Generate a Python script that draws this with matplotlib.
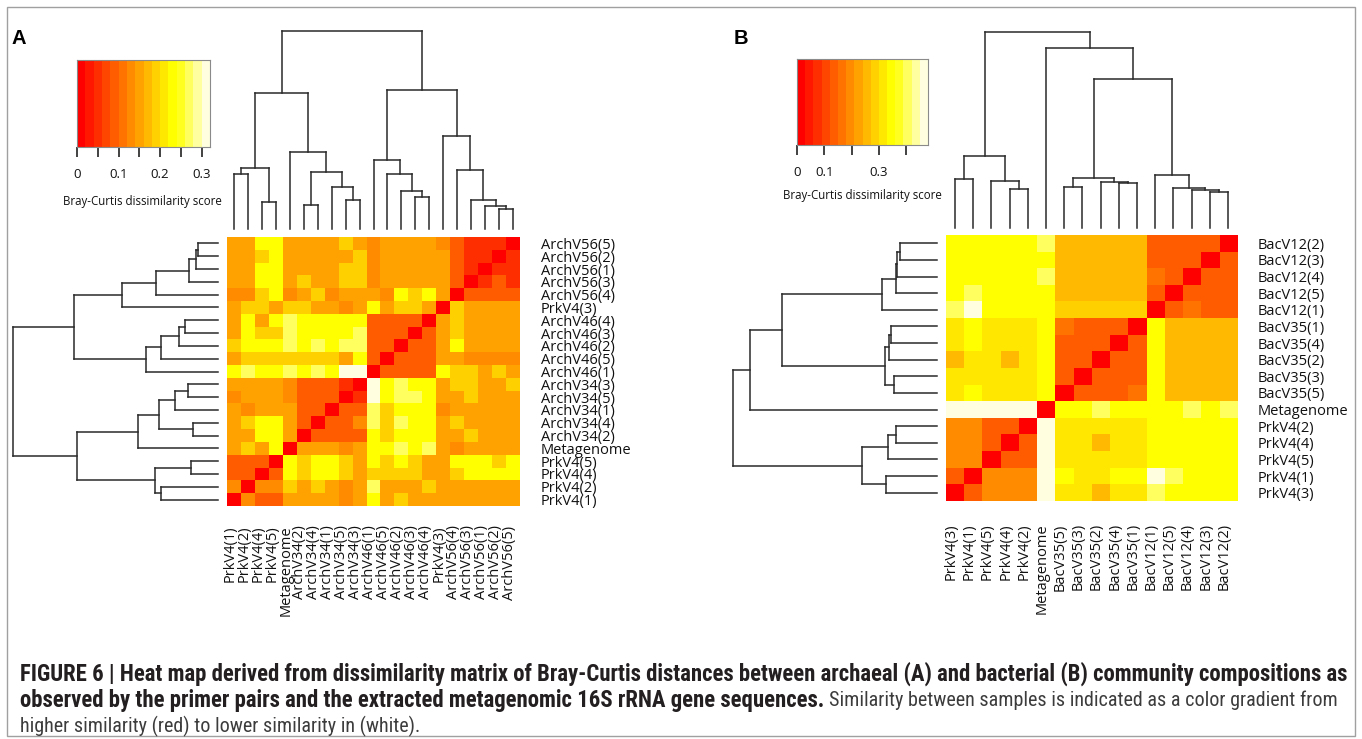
import colorsys
import numpy as np
import matplotlib
matplotlib.use("Agg")
import matplotlib.pyplot as plt
from matplotlib import font_manager
from matplotlib.colors import ListedColormap
from matplotlib.patches import Rectangle
from matplotlib.transforms import ScaledTranslation

# ---------------- panel A: archaea ----------------
a_rows = ["ArchV56(5)", "ArchV56(2)", "ArchV56(1)", "ArchV56(3)", "ArchV56(4)",
          "PrkV4(3)", "ArchV46(4)", "ArchV46(3)", "ArchV46(2)", "ArchV46(5)",
          "ArchV46(1)", "ArchV34(3)", "ArchV34(5)", "ArchV34(1)", "ArchV34(4)",
          "ArchV34(2)", "Metagenome", "PrkV4(5)", "PrkV4(4)", "PrkV4(2)", "PrkV4(1)"]
a_cols = a_rows[::-1]

# Bray-Curtis dissimilarity, rows top->bottom, columns left->right
a_dist = [
    [.15, .15, .23, .23, .15, .15, .15, .15, .19, .15, .13, .15, .15, .15, .15, .13, .09, .05, .05, .05, 0],
    [.15, .15, .19, .23, .15, .15, .15, .15, .15, .19, .13, .15, .15, .15, .15, .15, .09, .05, .05, 0, .05],
    [.15, .15, .23, .23, .15, .15, .15, .15, .19, .19, .13, .15, .15, .15, .15, .15, .09, .05, 0, .05, .05],
    [.15, .15, .23, .23, .15, .19, .15, .15, .19, .19, .13, .15, .15, .15, .15, .15, .09, 0, .05, .09, .05],
    [.13, .13, .19, .23, .13, .15, .19, .13, .15, .15, .15, .13, .23, .19, .23, .15, 0, .09, .09, .09, .09],
    [.15, .19, .19, .15, .19, .19, .15, .15, .13, .15, .23, .15, .19, .19, .15, 0, .19, .15, .15, .15, .15],
    [.15, .23, .15, .23, .27, .23, .23, .23, .23, .23, .09, .09, .09, .09, 0, .15, .19, .15, .15, .15, .15],
    [.15, .23, .19, .19, .27, .23, .23, .23, .23, .27, .09, .09, .09, 0, .09, .15, .19, .15, .15, .15, .15],
    [.19, .23, .23, .23, .27, .23, .27, .23, .27, .27, .09, .09, 0, .09, .09, .15, .23, .15, .15, .15, .15],
    [.15, .19, .19, .19, .19, .19, .19, .19, .15, .23, .09, 0, .09, .09, .09, .15, .15, .13, .13, .13, .13],
    [.23, .27, .23, .23, .27, .23, .27, .23, .31, .31, 0, .09, .09, .09, .09, .23, .19, .19, .15, .19, .15],
    [.15, .15, .15, .15, .13, .09, .09, .09, .05, 0, .31, .23, .27, .23, .23, .15, .19, .19, .15, .15, .19],
    [.13, .15, .15, .15, .13, .09, .09, .09, 0, .05, .31, .23, .27, .27, .23, .15, .15, .19, .15, .15, .15],
    [.15, .13, .15, .15, .15, .09, .09, 0, .09, .09, .27, .19, .23, .23, .23, .13, .15, .15, .15, .15, .15],
    [.15, .19, .23, .23, .15, .09, 0, .09, .09, .13, .27, .19, .27, .23, .23, .15, .19, .15, .15, .15, .15],
    [.15, .15, .23, .23, .15, 0, .09, .09, .09, .09, .23, .19, .23, .23, .23, .15, .15, .19, .15, .15, .15],
    [.15, .19, .15, .23, 0, .15, .15, .15, .13, .15, .23, .23, .27, .23, .27, .15, .13, .15, .15, .15, .15],
    [.09, .09, .09, 0, .23, .19, .23, .23, .19, .15, .23, .19, .23, .19, .15, .15, .23, .23, .23, .19, .23],
    [.09, .09, 0, .09, .23, .19, .23, .23, .19, .15, .19, .19, .19, .19, .15, .15, .19, .23, .23, .23, .23],
    [.13, 0, .13, .13, .19, .15, .19, .15, .13, .15, .27, .15, .15, .15, .19, .15, .15, .15, .15, .15, .15],
    [0, .13, .09, .09, .15, .15, .15, .15, .13, .15, .23, .15, .19, .15, .15, .15, .15, .15, .15, .15, .15],
]

# hclust-style merges: negative = leaf number, positive = earlier merge
a_col_merge = [(-1, -2, 55.3), (-3, -4, 26.7), (1, 2, 61.0), (-6, -7, 24.3),
               (-9, -10, 29.3), (-8, 5, 42.0), (4, 6, 57.0), (-5, 7, 77.0),
               (3, 8, 136.0), (-14, -15, 32.0), (-13, 10, 37.7), (-12, 11, 55.0),
               (-11, 12, 68.7), (-20, -21, 20.3), (-19, 14, 22.7), (-18, 15, 29.3),
               (-17, 16, 59.3), (-16, 17, 93.3), (13, 18, 138.7), (9, 19, 197.7)]
a_row_merge = [(-1, -2, 20.0), (1, -3, 22.3), (2, -4, 29.3), (3, -5, 61.7),
               (4, -6, 96.0), (-7, -8, 32.7), (6, -9, 39.0), (7, -10, 56.7),
               (8, -11, 71.7), (5, 9, 144.3), (-12, -13, 30.0), (11, -14, 43.3),
               (-15, -16, 25.0), (12, 13, 59.0), (14, -17, 80.0), (-18, -19, 26.7),
               (-20, -21, 57.3), (16, 17, 63.3), (15, 18, 141.0), (10, 19, 205.0)]

a_key_max = 0.32
a_key_ticks = [0, 0.05, 0.10, 0.15, 0.20, 0.25, 0.30]
a_key_labels = ["0", "", "0.1", "", "0.2", "", "0.3"]

# ---------------- panel B: bacteria ----------------
b_rows = ["BacV12(2)", "BacV12(3)", "BacV12(4)", "BacV12(5)", "BacV12(1)",
          "BacV35(1)", "BacV35(4)", "BacV35(2)", "BacV35(3)", "BacV35(5)",
          "Metagenome", "PrkV4(2)", "PrkV4(4)", "PrkV4(5)", "PrkV4(1)", "PrkV4(3)"]
b_cols = b_rows[::-1]

b_dist = [
    [.34, .34, .34, .34, .34, .40, .265, .265, .265, .265, .265, .135, .135, .135, .135, 0],
    [.34, .34, .34, .34, .34, .34, .265, .265, .265, .265, .265, .135, .135, .135, 0, .135],
    [.34, .34, .34, .34, .34, .40, .265, .265, .265, .265, .265, .165, .135, 0, .135, .135],
    [.34, .40, .34, .34, .34, .34, .265, .265, .265, .265, .265, .135, 0, .135, .135, .135],
    [.40, .46, .34, .34, .34, .34, .29, .29, .29, .29, .29, 0, .135, .165, .135, .135],
    [.31, .34, .31, .31, .31, .34, .165, .135, .135, .135, 0, .34, .265, .265, .265, .265],
    [.31, .34, .31, .31, .31, .34, .135, .135, .135, 0, .135, .34, .265, .265, .265, .265],
    [.265, .31, .31, .265, .31, .34, .135, .135, 0, .135, .135, .34, .265, .265, .265, .265],
    [.31, .31, .31, .31, .31, .34, .135, 0, .135, .135, .135, .34, .265, .265, .265, .265],
    [.31, .34, .31, .31, .31, .34, 0, .135, .135, .135, .165, .34, .265, .265, .265, .265],
    [.46, .46, .46, .46, .46, 0, .34, .34, .40, .34, .34, .34, .34, .40, .34, .40],
    [.19, .19, .135, .135, 0, .46, .31, .31, .31, .31, .31, .34, .34, .34, .34, .34],
    [.19, .19, .135, 0, .135, .46, .31, .31, .265, .31, .31, .34, .34, .34, .34, .34],
    [.19, .19, 0, .135, .135, .46, .31, .31, .31, .31, .31, .34, .34, .34, .34, .34],
    [.135, 0, .19, .19, .19, .46, .34, .31, .31, .34, .34, .46, .40, .34, .34, .34],
    [0, .135, .19, .19, .19, .46, .31, .31, .265, .31, .31, .40, .34, .34, .34, .34],
]

b_row_merge = [(-1, -2, 37.0), (1, -3, 39.7), (2, -4, 41.3), (3, -5, 54.7),
               (-6, -7, 46.3), (5, -8, 47.7), (-9, -10, 43.0), (6, 7, 52.0),
               (4, 8, 155.3), (9, -11, 187.0), (-12, -13, 41.0), (11, -14, 48.7),
               (-15, -16, 51.0), (12, 13, 75.3), (10, 14, 203.7)]
b_col_merge = [(-1, -2, 51.0), (-4, -5, 41.0), (-3, 2, 48.7), (1, 3, 75.3),
               (-7, -8, 43.0), (-10, -11, 46.3), (-9, 6, 47.7), (5, 7, 52.0),
               (-15, -16, 37.0), (-14, 9, 39.7), (-13, 10, 41.3), (-12, 11, 54.7),
               (8, 12, 155.3), (-6, 13, 187.0), (4, 14, 203.7)]

b_key_max = 0.48
b_key_ticks = [0, 0.1, 0.2, 0.3, 0.4]
b_key_labels = ["0", "0.1", "", "0.3", ""]

caption_bold_1 = ("FIGURE 6 | Heat map derived from dissimilarity matrix of Bray-Curtis distances "
                  "between archaeal (A) and bacterial (B) community compositions as")
caption_bold_2 = "observed by the primer pairs and the extracted metagenomic 16S rRNA gene sequences."
caption_plain_2 = "Similarity between samples is indicated as a color gradient from"
caption_plain_3 = "higher similarity (red) to lower similarity in (white)."

# ---------------- drawing ----------------
W, H = 1362, 739
fig = plt.figure(figsize=(W / 100, H / 100), dpi=100)
fig.patch.set_facecolor("white")

installed = {f.name for f in font_manager.fontManager.ttflist}


def pick_font(*names):
    for n in names:
        if n in installed:
            return n
    return "DejaVu Sans"


LABEL_FONT = pick_font("Open Sans", "Liberation Sans")
CAP_FONT = pick_font("Liberation Sans Narrow", "Roboto Condensed", "Liberation Sans")
INK = "#111111"
LINE = "#2a2a2a"


def px_axes(x0, y0, x1, y1):
    return fig.add_axes([x0 / W, 1 - y1 / H, (x1 - x0) / W, (y1 - y0) / H])


def heat_colors(n):
    # same recipe as R's heat.colors()
    j = n // 4
    i = n - j
    cols = [colorsys.hsv_to_rgb(h, 1, 1) for h in np.linspace(0, 1 / 6, i)]
    cols += [colorsys.hsv_to_rgb(1 / 6, s, 1) for s in np.linspace(1 - 1 / (2 * j), 1 / (2 * j), j)]
    return ListedColormap(cols)


cmap = heat_colors(16)


def seg(ax, p, h, side):
    if side == "top":
        ax.plot(p, h, color=LINE, lw=1.1, solid_capstyle="projecting", clip_on=False)
    else:
        ax.plot(h, p, color=LINE, lw=1.1, solid_capstyle="projecting", clip_on=False)


def dendro(ax, merge, side):
    n = len(merge) + 1
    pos, hgt = {}, {}
    for k, (a, b, h) in enumerate(merge, start=1):
        xs = []
        for c in (a, b):
            if c < 0:
                p, hc = -c - 1, 0.0
            else:
                p, hc = pos[c], hgt[c]
            xs.append(p)
            seg(ax, [p, p], [hc, h], side)
        seg(ax, xs, [h, h], side)
        pos[k] = sum(xs) / 2
        hgt[k] = h
    top = max(hgt.values())
    if side == "top":
        ax.set_xlim(-0.5, n - 0.5)
        ax.set_ylim(0, top)
    else:
        ax.set_ylim(n - 0.5, -0.5)
        ax.set_xlim(top, 0)
    ax.axis("off")


def heatmap(ax, dist, rows, cols, vmax, xpad, ypad):
    ax.imshow(np.array(dist), cmap=cmap, vmin=0, vmax=vmax, aspect="auto",
              interpolation="nearest")
    ax.set_xticks(range(len(cols)))
    ax.set_xticklabels(cols, rotation=90, fontsize=10.5, family=LABEL_FONT, color=INK)
    ax.set_yticks(range(len(rows)))
    ax.set_yticklabels(rows, fontsize=10.5, family=LABEL_FONT, color=INK)
    ax.yaxis.tick_right()
    ax.tick_params(axis="x", length=0, pad=xpad)
    ax.tick_params(axis="y", length=0, pad=ypad)
    # column names sit a little left of the cell centres, as in the figure
    nudge = ScaledTranslation(-4 / 100, 0, fig.dpi_scale_trans)
    for lbl in ax.get_xticklabels():
        lbl.set_transform(lbl.get_transform() + nudge)
    for s in ax.spines.values():
        s.set_visible(False)


def colour_key(ax, vmax, ticks, labels):
    edges = np.linspace(0, vmax, cmap.N + 1)
    mids = (edges[:-1] + edges[1:]) / 2
    ax.pcolormesh(edges, [0, 1], mids[None, :], cmap=cmap, vmin=0, vmax=vmax)
    ax.set_xlim(0, vmax)
    ax.set_ylim(0, 1)
    ax.set_yticks([])
    ax.set_xticks(ticks)
    ax.set_xticklabels(labels, fontsize=9.5, family=LABEL_FONT, color=INK)
    ax.tick_params(axis="x", length=7, width=1.3, color="#333333", pad=8, direction="out")
    for s in ax.spines.values():
        s.set_color("#8a8a8a")
        s.set_linewidth(0.8)


# panel A
ax = px_axes(227, 237, 520, 506)
heatmap(ax, a_dist, a_rows, a_cols, a_key_max, xpad=14, ypad=15)
dendro(px_axes(227, 229 - 197.7, 520, 229), a_col_merge, "top")
dendro(px_axes(218 - 205, 237, 218, 506), a_row_merge, "left")
colour_key(px_axes(77, 60, 210, 147), a_key_max, a_key_ticks, a_key_labels)
fig.text(142 / W, 1 - 202 / H, "Bray-Curtis dissimilarity score", ha="center", va="center",
         fontsize=8.3, family=LABEL_FONT, color=INK)
fig.text(11 / W, 1 - 39 / H, "A", fontsize=14.5, fontweight="bold", family="Liberation Sans",
         va="center", color="black")

# panel B
ax = px_axes(946, 235, 1237, 501)
heatmap(ax, b_dist, b_rows, b_cols, b_key_max, xpad=16, ypad=14.5)
dendro(px_axes(946, 32, 1237, 228), b_col_merge, "top")
dendro(px_axes(937 - 203.7, 235, 937, 501), b_row_merge, "left")
colour_key(px_axes(797, 59, 928, 145), b_key_max, b_key_ticks, b_key_labels)
fig.text(862 / W, 1 - 195 / H, "Bray-Curtis dissimilarity score", ha="center", va="center",
         fontsize=8.3, family=LABEL_FONT, color=INK)
fig.text(734 / W, 1 - 38 / H, "B", fontsize=14.5, fontweight="bold", family="Liberation Sans",
         va="center", color="black")

# frame round the figure
fig.patches.append(Rectangle((7 / W, 1 - 736 / H), 1348 / W, 729 / H, transform=fig.transFigure,
                             fill=False, edgecolor="#a0a0a0", lw=1.0))

# caption: bold size fitted to the first line, plain size fitted to the room left
renderer = fig.canvas.get_renderer()
t1 = fig.text(20 / W, 1 - 674 / H, caption_bold_1, fontsize=11, fontweight="bold",
              family=CAP_FONT, va="center", color="#231f20")
size = 11 * 1325 / t1.get_window_extent(renderer).width
t1.set_fontsize(size)
t2 = fig.text(20 / W, 1 - 700 / H, caption_bold_2, fontsize=size, fontweight="bold",
              family=CAP_FONT, va="center", color="#231f20")
x_plain = 20 + t2.get_window_extent(renderer).width + 5
t3 = fig.text(x_plain / W, 1 - 700 / H, caption_plain_2, fontsize=size,
              family=CAP_FONT, va="center", color="#3c3c3c")
plain = min(size, size * (1340 - x_plain) / t3.get_window_extent(renderer).width)
t3.set_fontsize(plain)
fig.text(20 / W, 1 - 726 / H, caption_plain_3, fontsize=plain,
         family=CAP_FONT, va="center", color="#3c3c3c")

fig.savefig("out.png", dpi=100)
